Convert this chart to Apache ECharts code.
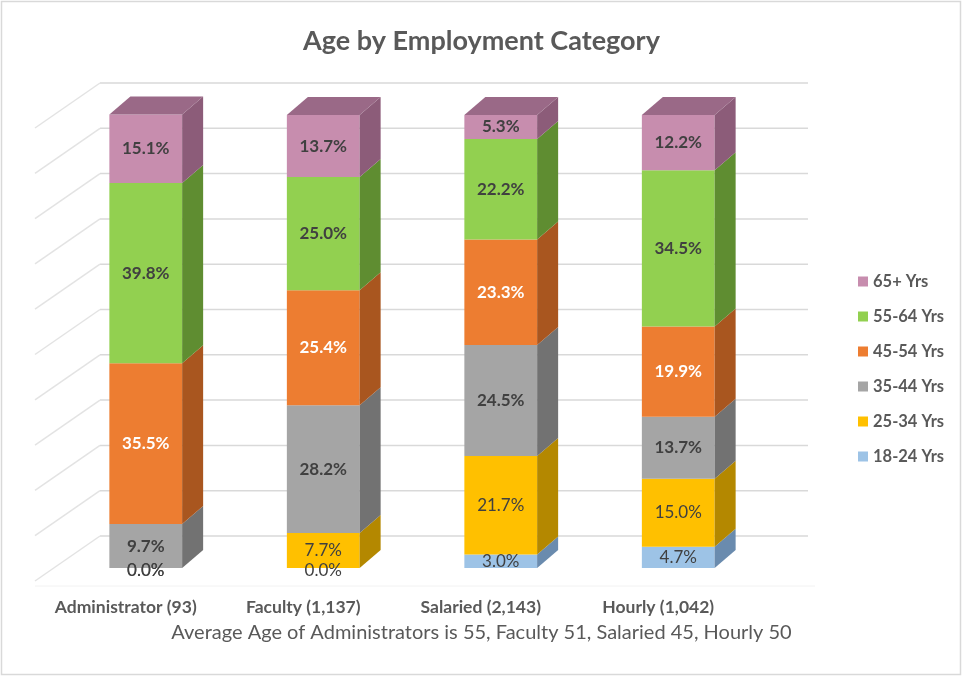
<!DOCTYPE html>
<html>
<head>
<meta charset="utf-8">
<script src="https://cdn.jsdelivr.net/npm/echarts@6/dist/echarts.min.js"></script>
<style>
  html, body { margin: 0; padding: 0; background: #ffffff; }
  #chart { width: 963px; height: 677px; }
</style>
</head>
<body>
<div id="chart"></div>
<script>
// Employee groups (headcount in brackets) and age bands, bottom to top of each stack
const categories = ['Administrator (93)', 'Faculty (1,137)', 'Salaried (2,143)', 'Hourly (1,042)'];
const ageGroups = ['18-24 Yrs', '25-34 Yrs', '35-44 Yrs', '45-54 Yrs', '55-64 Yrs', '65+ Yrs'];

// Share of each group per age band, in percent
const pct18to24 = [0.0, 0.0, 3.0, 4.7];
const pct25to34 = [0.0, 7.7, 21.7, 15.0];
const pct35to44 = [9.7, 28.2, 24.5, 13.7];
const pct45to54 = [35.5, 25.4, 23.3, 19.9];
const pct55to64 = [39.8, 25.0, 22.2, 34.5];
const pct65plus = [15.1, 13.7, 5.3, 12.2];

// Back-wall gridline values
const gridTicks = [0, 10, 20, 30, 40, 50, 60, 70, 80, 90, 100];

const chartTitle = 'Age by Employment Category';
const footnote = 'Average Age of Administrators is 55, Faculty 51, Salaried 45, Hourly 50';

const bands = [pct18to24, pct25to34, pct35to44, pct45to54, pct55to64, pct65plus];

// Face colours: front, side, top
const FRONT = ['#9dc3e6', '#ffc000', '#a5a5a5', '#ed7d31', '#92d050', '#c78dae'];
const SIDE  = ['#6a8bae', '#b48800', '#727272', '#a9561f', '#5f8d31', '#8c5c79'];
const TOP   = ['#7d9fc4', '#c99a00', '#858585', '#bd6125', '#6f9f3b', '#9a6987'];
const LABEL_COLOR = ['#404040', '#404040', '#404040', '#ffffff', '#404040', '#404040'];
const LABEL_WEIGHT = ['normal', 'normal', 'bold', 'bold', 'bold', 'bold'];

const FONT = 'Lato, "Open Sans", sans-serif';

// 3-D depth of a bar, and of the back wall relative to the bar fronts
const DEPTH_X = 21, DEPTH_Y = 18;
const WALL_RISE = 32, WALL_LEFT = 100, WALL_RIGHT = 808;
const FLOOR_DX = 65, FLOOR_DY = 45;

// cumulative bases of each band
const bases = bands.map((band, b) =>
  band.map((_, i) => bands.slice(0, b).reduce((s, arr) => s + arr[i], 0))
);

function barSeries(b) {
  const isTop = b === bands.length - 1;
  return {
    type: 'custom',
    name: ageGroups[b],
    z: 3,
    itemStyle: { color: FRONT[b] },
    encode: { x: 0, y: [1, 2] },
    data: categories.map((c, i) => [i, bases[b][i], bases[b][i] + bands[b][i], bands[b][i]]),
    renderItem: function (params, api) {
      const ci = api.value(0);
      const lo = api.coord([ci, api.value(1)]);
      const hi = api.coord([ci, api.value(2)]);
      const val = api.value(3);
      const w = api.size([1, 0])[0] * 0.41;
      const x0 = lo[0] - w / 2, x1 = lo[0] + w / 2;
      const yb = lo[1], yt = hi[1];
      const children = [
        { type: 'rect', shape: { x: x0, y: yt, width: w, height: yb - yt }, style: { fill: FRONT[b] } },
        { type: 'polygon', shape: { points: [[x1, yb], [x1 + DEPTH_X, yb - DEPTH_Y], [x1 + DEPTH_X, yt - DEPTH_Y], [x1, yt]] }, style: { fill: SIDE[b] } }
      ];
      if (isTop) {
        children.push({ type: 'polygon', shape: { points: [[x0, yt], [x1, yt], [x1 + DEPTH_X, yt - DEPTH_Y], [x0 + DEPTH_X, yt - DEPTH_Y]] }, style: { fill: TOP[b] } });
      }
      children.push({
        type: 'text',
        x: lo[0],
        y: (yb + yt) / 2 + (val === 0 ? 3 : 0),
        z2: 10,
        style: {
          text: val.toFixed(1) + '%',
          fill: LABEL_COLOR[b],
          fontFamily: FONT,
          fontSize: 17,
          fontWeight: LABEL_WEIGHT[b],
          align: 'center',
          verticalAlign: 'middle'
        }
      });
      return { type: 'group', children: children };
    }
  };
}

const wallSeries = {
  type: 'custom',
  name: 'wall',
  silent: true,
  z: 1,
  encode: { x: 0, y: 1 },
  data: gridTicks.map(v => [0, v]),
  renderItem: function (params, api) {
    const y = api.coord([0, api.value(1)])[1] - WALL_RISE;
    return {
      type: 'group',
      children: [
        { type: 'line', shape: { x1: WALL_LEFT, y1: y, x2: WALL_RIGHT, y2: y }, style: { stroke: '#d9d9d9', lineWidth: 1.5 } },
        { type: 'line', shape: { x1: WALL_LEFT, y1: y, x2: WALL_LEFT - FLOOR_DX, y2: y + FLOOR_DY }, style: { stroke: '#e3e3e3', lineWidth: 1.5 } }
      ]
    };
  }
};

const chart = echarts.init(document.getElementById('chart'), null, { renderer: 'canvas' });

chart.setOption({
  animation: false,
  backgroundColor: '#ffffff',
  title: {
    text: chartTitle,
    left: 'center',
    top: 23,
    textStyle: { fontFamily: FONT, fontSize: 27, fontWeight: 'bold', color: '#595959' }
  },
  legend: {
    orient: 'vertical',
    left: 853,
    top: 268,
    itemWidth: 10,
    itemHeight: 10,
    itemGap: 18,
    icon: 'rect',
    data: ageGroups.slice().reverse(),
    textStyle: { fontFamily: FONT, fontSize: 16.5, lineHeight: 16, fontWeight: 'bold', color: '#595959' }
  },
  grid: { left: 57, right: 196, top: 115, bottom: 109, containLabel: false },
  xAxis: {
    type: 'category',
    data: categories,
    axisLine: { show: false },
    axisTick: { show: false },
    axisLabel: {
      interval: 0,
      hideOverlap: false,
      margin: 30,
      padding: [0, 40, 0, 0],
      fontFamily: FONT,
      fontSize: 17.5,
      fontWeight: 'bold',
      color: '#595959'
    }
  },
  yAxis: {
    type: 'value',
    min: 0,
    max: 100,
    interval: 10,
    axisLine: { show: false },
    axisTick: { show: false },
    axisLabel: { show: false },
    splitLine: { show: false }
  },
  graphic: [
    { type: 'rect', shape: { x: 1.5, y: 1.5, width: 959, height: 673 }, style: { fill: 'none', stroke: '#d9d9d9', lineWidth: 1.5 }, z: 0 },
    { type: 'line', shape: { x1: 35, y1: 586, x2: 815, y2: 586 }, style: { stroke: '#f2f2f2', lineWidth: 1 }, z: 0 },
    {
      type: 'text',
      left: 'center',
      top: 623,
      style: { text: footnote, fontFamily: FONT, fontSize: 20, fill: '#595959' }
    }
  ],
  series: [wallSeries].concat(bands.map((_, b) => barSeries(b)))
});
</script>
</body>
</html>
